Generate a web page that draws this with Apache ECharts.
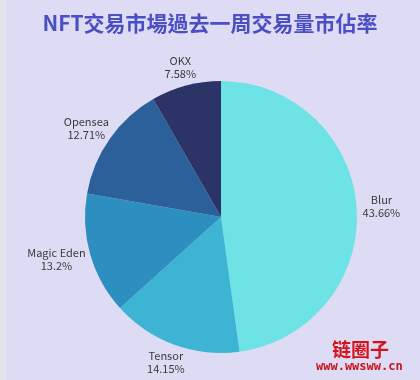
<!DOCTYPE html>
<html><head><meta charset="utf-8">
<script src="https://cdn.jsdelivr.net/npm/echarts@6/dist/echarts.min.js"></script>
<style>html,body{margin:0;padding:0;background:#dedcf4;}#c{width:420px;height:380px;}</style>
</head><body><div id="c"></div>
<script>
var categories = ['Blur', 'Tensor', 'Magic Eden', 'Opensea', 'OKX'];
var values = [43.66, 14.15, 13.2, 12.71, 7.58];
var colors = ['#6de3e6', '#3db4d4', '#2d8fc0', '#2c609b', '#2c3367'];
var titleText = 'NFT交易市場過去一周交易量市佔率';

var CX = 221, CY = 217, R = 136, GAP = 6;
var total = values.reduce(function (a, b) { return a + b; }, 0);
function midAngle(i) {
  var s = 0;
  for (var k = 0; k < i; k++) s += values[k];
  return (s + values[i] / 2) / total * 2 * Math.PI;
}

var chart = echarts.init(document.getElementById('c'));
chart.setOption({
  backgroundColor: '#dedcf4',
  animation: false,
  title: {
    text: titleText, left: 'center', top: 8,
    textStyle: { color: '#4a4fc2', fontSize: 21, fontWeight: 'bold', fontFamily: 'Noto Sans CJK TC' }
  },
  graphic: [
    { type: 'rect', left: 0, top: 0, shape: { width: 6, height: 380 }, style: { fill: '#e3e4ee' } },
    { type: 'text', left: 332, top: 340, style: { text: '链圈子', fill: '#d8121a', font: 'bold 19px "Noto Sans CJK SC"' } },
    { type: 'text', left: 316, top: 361, style: { text: 'www.wwsww.cn', fill: '#c8141c', font: 'bold 12px "DejaVu Sans Mono"' } }
  ],
  series: [{
    type: 'pie',
    center: [CX, CY],
    radius: [0, R],
    startAngle: 90,
    clockwise: true,
    label: {
      show: true, position: 'outside', color: '#3a3a3a',
      fontSize: 11, lineHeight: 13, fontFamily: 'Noto Sans CJK SC',
      overflow: 'none', edgeDistance: 0,
      formatter: function (p) { return p.name + '\n' + p.value + '%'; }
    },
    labelLine: { show: false },
    labelLayout: function (p) {
      var a = midAngle(p.dataIndex);
      var dx = Math.sin(a), dy = -Math.cos(a);
      var w = p.labelRect.width / 2, h = p.labelRect.height / 2;
      return {
        x: CX + dx * (R + GAP) + dx * w,
        y: CY + dy * (R + GAP) + dy * h,
        align: 'center', verticalAlign: 'middle', hideOverlap: false
      };
    },
    itemStyle: { borderWidth: 0 },
    data: categories.map(function (c, i) { return { name: c, value: values[i], itemStyle: { color: colors[i] } }; })
  }]
});
</script></body></html>
